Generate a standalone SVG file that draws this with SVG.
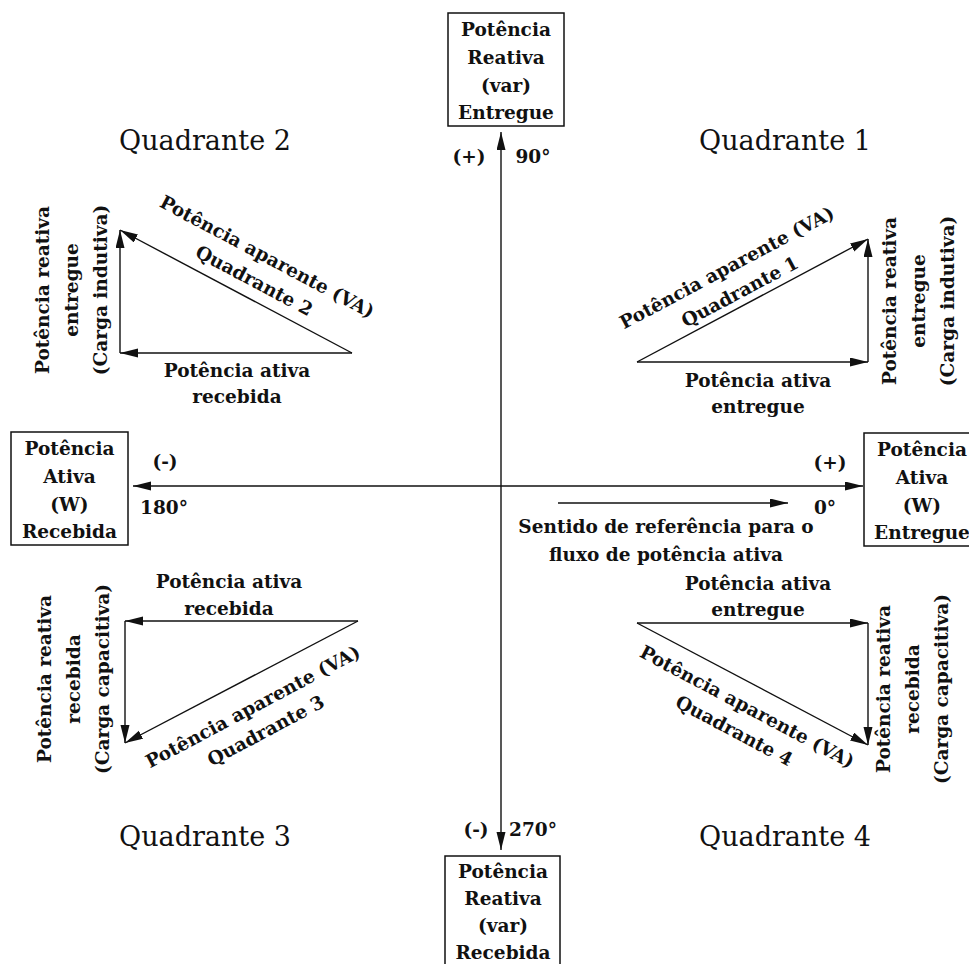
<svg xmlns="http://www.w3.org/2000/svg" width="969" height="964" viewBox="0 0 969 964">
  <style>
    .lbl { font-family: "DejaVu Serif", "Liberation Serif", serif; font-size: 18.5px; font-weight: bold; fill: #111; text-anchor: middle; }
    .quad { font-family: "DejaVu Serif", "Liberation Serif", serif; font-size: 27px; fill: #111; text-anchor: middle; }
    .box { fill: #fff; stroke: #111; stroke-width: 1.5; }
    .vec { fill: none; stroke: #111; stroke-width: 1.4; marker-end: url(#arrow); }
  </style>
  <defs>
    <marker id="arrow" markerUnits="userSpaceOnUse" markerWidth="18" markerHeight="10" refX="18" refY="4.5" orient="auto">
      <path d="M0,0 L18,4.5 L0,9 z" fill="#111"/>
    </marker>
  </defs>
  <rect width="969" height="964" fill="#fff"/>

  <!-- axes and power vectors -->
  <g id="connectors">
    <line class="vec" x1="501" y1="486" x2="501" y2="132"/>
    <line class="vec" x1="501" y1="486" x2="501" y2="850"/>
    <line class="vec" x1="501" y1="486" x2="133" y2="486"/>
    <line class="vec" x1="501" y1="486" x2="863" y2="486"/>
    <line class="vec" x1="558" y1="503" x2="788" y2="503"/>

    <!-- quadrant 1 -->
    <line class="vec" x1="637" y1="362" x2="868" y2="362"/>
    <line class="vec" x1="868" y1="362" x2="868" y2="239"/>
    <line class="vec" x1="637" y1="362" x2="868" y2="239"/>
    <!-- quadrant 2 -->
    <line class="vec" x1="352" y1="353" x2="120" y2="353"/>
    <line class="vec" x1="120" y1="353" x2="120" y2="230"/>
    <line class="vec" x1="352" y1="353" x2="120" y2="230"/>
    <!-- quadrant 3 -->
    <line class="vec" x1="358" y1="621" x2="125" y2="621"/>
    <line class="vec" x1="125" y1="621" x2="125" y2="743"/>
    <line class="vec" x1="358" y1="621" x2="125" y2="743"/>
    <!-- quadrant 4 -->
    <line class="vec" x1="637" y1="623" x2="868" y2="623"/>
    <line class="vec" x1="868" y1="623" x2="868" y2="745"/>
    <line class="vec" x1="637" y1="623" x2="868" y2="745"/>
  </g>

  <!-- axis end boxes -->
  <g id="box-reativa-entregue">
    <rect class="box" x="448" y="13" width="116" height="113"/>
    <text class="lbl" x="506" y="36">Potência</text>
    <text class="lbl" x="506" y="64">Reativa</text>
    <text class="lbl" x="506" y="92">(var)</text>
    <text class="lbl" x="506" y="119">Entregue</text>
  </g>
  <g id="box-ativa-recebida">
    <rect class="box" x="11" y="432" width="117" height="113"/>
    <text class="lbl" x="69.5" y="455">Potência</text>
    <text class="lbl" x="69.5" y="483">Ativa</text>
    <text class="lbl" x="69.5" y="511">(W)</text>
    <text class="lbl" x="69.5" y="538">Recebida</text>
  </g>
  <g id="box-ativa-entregue">
    <rect class="box" x="864" y="433" width="118" height="113"/>
    <text class="lbl" x="922" y="456">Potência</text>
    <text class="lbl" x="922" y="484">Ativa</text>
    <text class="lbl" x="922" y="512">(W)</text>
    <text class="lbl" x="922" y="539">Entregue</text>
  </g>
  <g id="box-reativa-recebida">
    <rect class="box" x="445" y="856" width="115" height="120"/>
    <text class="lbl" x="503" y="878">Potência</text>
    <text class="lbl" x="503" y="905">Reativa</text>
    <text class="lbl" x="503" y="932">(var)</text>
    <text class="lbl" x="503" y="959">Recebida</text>
  </g>

  <!-- axis signs and angles -->
  <g id="axis-labels">
    <text class="lbl" x="469" y="163">(+)</text>
    <text class="lbl" x="533" y="163">90°</text>
    <text class="lbl" x="165" y="468">(-)</text>
    <text class="lbl" x="164" y="514">180°</text>
    <text class="lbl" x="830" y="469">(+)</text>
    <text class="lbl" x="825" y="514">0°</text>
    <text class="lbl" x="476" y="836">(-)</text>
    <text class="lbl" x="533" y="836">270°</text>
    <text class="lbl" x="666" y="533">Sentido de referência para o</text>
    <text class="lbl" x="666" y="561">fluxo de potência ativa</text>
  </g>

  <!-- quadrant titles -->
  <g id="quadrant-titles">
    <text class="quad" x="205" y="150">Quadrante 2</text>
    <text class="quad" x="785" y="150">Quadrante 1</text>
    <text class="quad" x="205" y="846">Quadrante 3</text>
    <text class="quad" x="785" y="846">Quadrante 4</text>
  </g>

  <!-- quadrant 1 labels -->
  <g id="q1-labels">
    <text class="lbl" x="758" y="387">Potência ativa</text>
    <text class="lbl" x="758" y="413">entregue</text>
    <g transform="translate(727,268) rotate(-28)"><text class="lbl" x="0" y="6">Potência aparente (VA)</text></g>
    <g transform="translate(740,292) rotate(-28)"><text class="lbl" x="0" y="6">Quadrante 1</text></g>
    <g transform="translate(890,301) rotate(-90)"><text class="lbl" x="0" y="6">Potência reativa</text></g>
    <g transform="translate(919,301) rotate(-90)"><text class="lbl" x="0" y="6">entregue</text></g>
    <g transform="translate(948,301) rotate(-90)"><text class="lbl" x="0" y="6">(Carga indutiva)</text></g>
  </g>

  <!-- quadrant 2 labels -->
  <g id="q2-labels">
    <text class="lbl" x="237" y="377">Potência ativa</text>
    <text class="lbl" x="237" y="403">recebida</text>
    <g transform="translate(267,257) rotate(28)"><text class="lbl" x="0" y="6">Potência aparente (VA)</text></g>
    <g transform="translate(254,281) rotate(28)"><text class="lbl" x="0" y="6">Quadrante 2</text></g>
    <g transform="translate(43,290) rotate(-90)"><text class="lbl" x="0" y="6">Potência reativa</text></g>
    <g transform="translate(72,290) rotate(-90)"><text class="lbl" x="0" y="6">entregue</text></g>
    <g transform="translate(101,290) rotate(-90)"><text class="lbl" x="0" y="6">(Carga indutiva)</text></g>
  </g>

  <!-- quadrant 3 labels -->
  <g id="q3-labels">
    <text class="lbl" x="229" y="588">Potência ativa</text>
    <text class="lbl" x="229" y="615">recebida</text>
    <g transform="translate(253,707) rotate(-28)"><text class="lbl" x="0" y="6">Potência aparente (VA)</text></g>
    <g transform="translate(266,731) rotate(-28)"><text class="lbl" x="0" y="6">Quadrante 3</text></g>
    <g transform="translate(45,679) rotate(-90)"><text class="lbl" x="0" y="6">Potência reativa</text></g>
    <g transform="translate(74,679) rotate(-90)"><text class="lbl" x="0" y="6">recebida</text></g>
    <g transform="translate(103,679) rotate(-90)"><text class="lbl" x="0" y="6">(Carga capacitiva)</text></g>
  </g>

  <!-- quadrant 4 labels -->
  <g id="q4-labels">
    <text class="lbl" x="758" y="590">Potência ativa</text>
    <text class="lbl" x="758" y="616">entregue</text>
    <g transform="translate(747,707) rotate(28)"><text class="lbl" x="0" y="6">Potência aparente (VA)</text></g>
    <g transform="translate(734,731) rotate(28)"><text class="lbl" x="0" y="6">Quadrante 4</text></g>
    <g transform="translate(884,689) rotate(-90)"><text class="lbl" x="0" y="6">Potência reativa</text></g>
    <g transform="translate(913,689) rotate(-90)"><text class="lbl" x="0" y="6">recebida</text></g>
    <g transform="translate(942,689) rotate(-90)"><text class="lbl" x="0" y="6">(Carga capacitiva)</text></g>
  </g>
</svg>
